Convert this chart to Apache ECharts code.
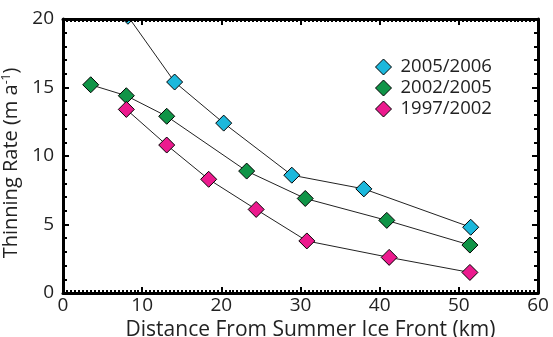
<!DOCTYPE html>
<html>
<head>
<meta charset="utf-8">
<script src="https://cdn.jsdelivr.net/npm/echarts@6/dist/echarts.min.js"></script>
<style>html,body{margin:0;padding:0;background:#fff}#c{width:553px;height:337px}</style>
</head>
<body>
<div id="c"></div>
<script>
const seriesNames = ['2005/2006', '2002/2005', '1997/2002'];
const colors = ['#1cb8dc', '#109447', '#ec1a8e'];
const dist2005_2006 = [8.2, 14.1, 20.3, 28.9, 38.0, 51.5];
const rate2005_2006 = [20.2, 15.4, 12.4, 8.6, 7.6, 4.8];
const dist2002_2005 = [3.5, 8.0, 13.1, 23.2, 30.6, 40.9, 51.4];
const rate2002_2005 = [15.2, 14.4, 12.9, 8.9, 6.9, 5.3, 3.5];
const dist1997_2002 = [8.0, 13.1, 18.4, 24.4, 30.8, 41.2, 51.4];
const rate1997_2002 = [13.4, 10.8, 8.3, 6.1, 3.8, 2.6, 1.5];
const xTicks = [0, 10, 20, 30, 40, 50, 60];
const yTicks = [0, 5, 10, 15, 20];

const dists = [dist2005_2006, dist2002_2005, dist1997_2002];
const rates = [rate2005_2006, rate2002_2005, rate1997_2002];

const font = 'Open Sans';
const chart = echarts.init(document.getElementById('c'));
const gridL = 63, gridR = 15, gridT = 19, gridB = 44;

function axisCommon(show) {
  return {
    axisLine: { show: true, onZero: false, lineStyle: { color: '#000', width: 3 } },
    axisTick: { show: true, inside: true, length: 6, lineStyle: { color: '#000', width: 2 } },
    splitLine: { show: false },
    axisLabel: { show: show, color: '#222', fontSize: 19, fontFamily: font }
  };
}

chart.setOption({
  animation: false,
  backgroundColor: '#fff',
  grid: { left: gridL, right: gridR, top: gridT, bottom: gridB, containLabel: false, outerBoundsMode: 'none' },
  legend: {
    orient: 'vertical',
    left: 370, top: 52,
    itemGap: 1,
    itemWidth: 16, itemHeight: 16,
    data: seriesNames.map(n => ({ name: n, icon: 'diamond' })),
    textStyle: { fontSize: 18.5, lineHeight: 20, fontFamily: font, color: '#222', padding: [0, 0, 0, 4] },
    itemStyle: { borderColor: '#000', borderWidth: 1 }
  },
  xAxis: [
    Object.assign(axisCommon(true), {
      type: 'value', min: 0, max: 60, interval: 10, position: 'bottom',
      name: 'Distance From Summer Ice Front (km)', nameLocation: 'middle', nameGap: 21,
      nameTextStyle: { fontSize: 21, fontFamily: font, color: '#222', padding: [0, 0, 0, 20] },
      minorTick: { show: true, splitNumber: 20, length: 3, lineStyle: { color: '#000', width: 2 } },
      axisLabel: { show: true, color: '#222', fontSize: 19, fontFamily: font, margin: 3 },
      z: 10
    }),
    Object.assign(axisCommon(false), {
      type: 'value', min: 0, max: 60, interval: 10, position: 'top',
      minorTick: { show: true, splitNumber: 20, length: 3, lineStyle: { color: '#000', width: 2 } },
      z: 10
    })
  ],
  yAxis: [
    Object.assign(axisCommon(true), {
      type: 'value', min: 0, max: 20, interval: 5, position: 'left',
      name: '{n|Thinning Rate (m a}{s|-1}{n|)}', nameLocation: 'middle', nameGap: 25, nameRotate: 90,
      nameTextStyle: {
        padding: [0, 14, 0, 0],
        rich: {
          n: { fontSize: 20, fontFamily: font, color: '#222' },
          s: { fontSize: 12, fontFamily: font, color: '#222', verticalAlign: 'top', padding: [0, 0, 10, 0] }
        }
      },
      minorTick: { show: true, splitNumber: 5, length: 4, lineStyle: { color: '#000', width: 2 } },
      axisLabel: { show: true, color: '#222', fontSize: 19, fontFamily: font, margin: 9 },
      z: 10
    }),
    Object.assign(axisCommon(false), {
      type: 'value', min: 0, max: 20, interval: 5, position: 'right',
      minorTick: { show: true, splitNumber: 5, length: 4, lineStyle: { color: '#000', width: 2 } },
      z: 10
    })
  ],
  graphic: [{
    type: 'rect', z: 5,
    shape: { x: gridL, y: 0, width: 553 - gridL - gridR, height: gridT - 1 },
    style: { fill: '#fff' }
  }],
  series: seriesNames.map((n, i) => ({
    name: n,
    type: 'line',
    clip: false,
    z: 3,
    symbol: 'diamond',
    symbolSize: 16,
    data: dists[i].map((d, j) => [d, rates[i][j]]),
    lineStyle: { color: '#222', width: 1 },
    itemStyle: { color: colors[i], borderColor: '#000', borderWidth: 1 }
  }))
});
</script>
</body>
</html>
